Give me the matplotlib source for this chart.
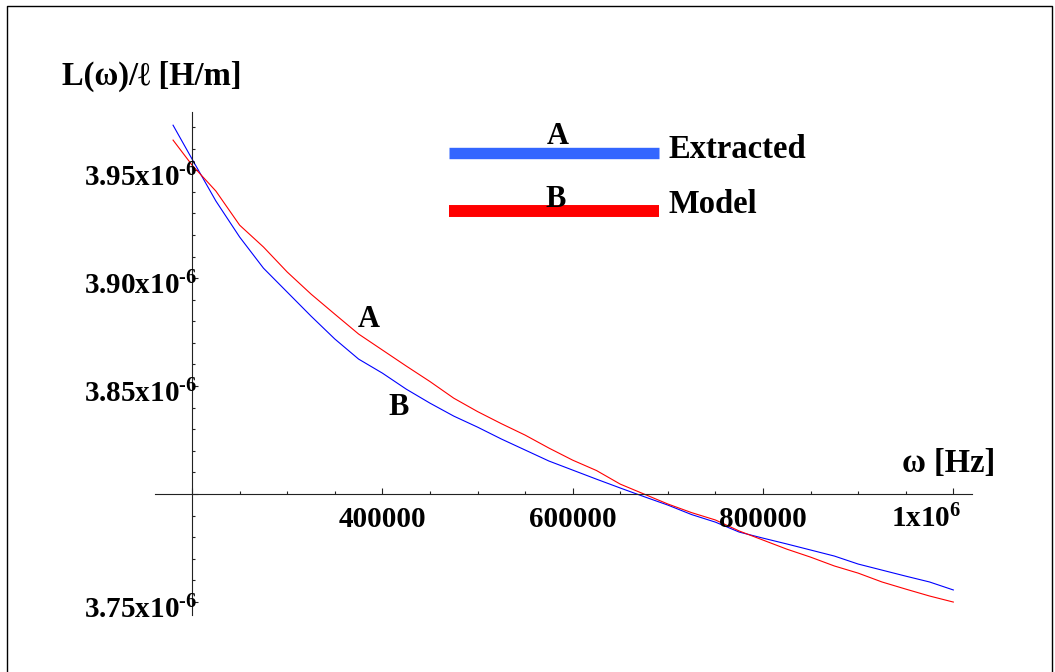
import matplotlib
matplotlib.use("Agg")
import matplotlib.pyplot as plt
import numpy as np
from matplotlib.lines import Line2D
from matplotlib.transforms import offset_copy
from matplotlib.ticker import MultipleLocator

plt.rcParams["font.family"] = ["Liberation Serif", "DejaVu Serif"]
plt.rcParams["font.weight"] = "bold"
plt.rcParams["mathtext.fontset"] = "custom"
plt.rcParams["mathtext.rm"] = "Liberation Serif:bold"
plt.rcParams["mathtext.bf"] = "Liberation Serif:bold"
plt.rcParams["mathtext.default"] = "bf"

# frequency samples [Hz]
omega = np.array([180000, 200000, 225000, 250000, 275000, 300000, 325000, 350000,
                  375000, 400000, 425000, 450000, 475000, 500000, 525000, 550000,
                  575000, 600000, 625000, 650000, 675000, 700000, 725000, 750000,
                  775000, 800000, 825000, 850000, 875000, 900000, 925000, 950000,
                  975000, 1000000])

# inductance per unit length, in units of 1e-6 H/m
extracted = np.array([3.9708, 3.9551, 3.9357, 3.9190, 3.9046, 3.8935, 3.8824, 3.8718,
                      3.8625, 3.8560, 3.8486, 3.8421, 3.8361, 3.8310, 3.8255, 3.8204,
                      3.8153, 3.8111, 3.8069, 3.8028, 3.7988, 3.7949, 3.7905, 3.7870,
                      3.7824, 3.7796, 3.7769, 3.7741, 3.7713, 3.7676, 3.7648, 3.7620,
                      3.7593, 3.7556])
model = np.array([3.9639, 3.9523, 3.9403, 3.9245, 3.9144, 3.9028, 3.8926, 3.8833,
                  3.8741, 3.8667, 3.8593, 3.8521, 3.8444, 3.8382, 3.8326, 3.8273,
                  3.8213, 3.8157, 3.8109, 3.8046, 3.8000, 3.7954, 3.7914, 3.7880,
                  3.7829, 3.7787, 3.7745, 3.7708, 3.7667, 3.7634, 3.7593, 3.7560,
                  3.7528, 3.7500])

x_ticks = [400000, 600000, 800000, 1000000]
x_labels = ["400000", "600000", "800000", r"1x10$^{6}$"]
y_ticks = [3.75, 3.85, 3.90, 3.95]
y_labels = ["3.75x10$^{\u20106}$", "3.85x10$^{\u20106}$", "3.90x10$^{\u20106}$", "3.95x10$^{\u20106}$"]

fig = plt.figure(figsize=(10.55, 6.72), dpi=100)
ax = fig.add_axes([0.1469, 0.0848, 0.7744, 0.7485])

ax.plot(omega, extracted * 1e-6, color="#0000ff", lw=0.8)
ax.plot(omega, model * 1e-6, color="#ff0000", lw=0.8)

ax.set_xlim(161000, 1019600)
ax.set_ylim(3.744e-6, 3.9769e-6)

# Mathematica style crossing axes
ax.spines["left"].set_position(("data", 200000))
ax.spines["bottom"].set_position(("data", 3.80e-6))
ax.spines["top"].set_visible(False)
ax.spines["right"].set_visible(False)
for s in ("left", "bottom"):
    ax.spines[s].set_linewidth(0.8)
    ax.spines[s].set_color("#222222")

ax.xaxis.set_major_locator(MultipleLocator(200000))
ax.xaxis.set_minor_locator(MultipleLocator(50000))
ax.yaxis.set_major_locator(MultipleLocator(0.05e-6))
ax.yaxis.set_minor_locator(MultipleLocator(0.01e-6))
ax.tick_params(which="both", direction="in", labelbottom=False, labelleft=False,
               width=0.8, color="#222222")
ax.tick_params(which="major", length=4)
ax.tick_params(which="minor", length=2.5)

# tick labels
for xv, lab in zip(x_ticks, x_labels):
    ha = "right" if "$" in lab else "center"
    dx = 8 if "$" in lab else 0
    tr = offset_copy(ax.transData, fig=fig, x=dx, y=-33, units="dots")
    ax.text(xv, 3.80e-6, lab, transform=tr, ha=ha, va="baseline", fontsize=21)
for yv, lab in zip(y_ticks, y_labels):
    tr = offset_copy(ax.transData, fig=fig, x=5, y=-16, units="dots")
    ax.text(200000, yv * 1e-6, lab, transform=tr, ha="right", va="baseline", fontsize=21)

# axis labels
ax.text(-0.1138, 1.0537, "L(ω)/ℓ [H/m]", transform=ax.transAxes, fontsize=23.5,
        ha="left", va="baseline")
ax.text(0.9143, 0.2843, "ω [Hz]", transform=ax.transAxes, fontsize=23.5,
        ha="left", va="baseline")

# curve annotations
ax.text(386000, 3.8773e-6, "A", fontsize=22, ha="center", va="baseline")
ax.text(417500, 3.8366e-6, "B", fontsize=22, ha="center", va="baseline")

# legend drawn Mathematica-style
ax.add_line(Line2D([0.36, 0.617], [0.9195, 0.9195], transform=ax.transAxes,
                   color="#3366ff", lw=8.2, solid_capstyle="butt", clip_on=False))
ax.add_line(Line2D([0.36, 0.617], [0.803, 0.803], transform=ax.transAxes,
                   color="#ff0000", lw=8.6, solid_capstyle="butt", clip_on=False))
ax.text(0.4933, 0.9364, "A", transform=ax.transAxes, fontsize=22, ha="center", va="baseline")
ax.text(0.4908, 0.8111, "B", transform=ax.transAxes, fontsize=22, ha="center", va="baseline")
ax.text(0.628, 0.9085, "Extracted", transform=ax.transAxes, fontsize=23.5, ha="left", va="baseline")
ax.text(0.629, 0.7992, "Model", transform=ax.transAxes, fontsize=23.5, ha="left", va="baseline")

# outer frame
W, H = 1055, 672
frame = Line2D([6.5 / W, 6.5 / W, 1051.5 / W, 1051.5 / W],
               [0.0, 1 - 5.5 / H, 1 - 5.5 / H, 0.0],
               transform=fig.transFigure, color="black", lw=1.0)
fig.add_artist(frame)

fig.savefig("out.png", dpi=100)
